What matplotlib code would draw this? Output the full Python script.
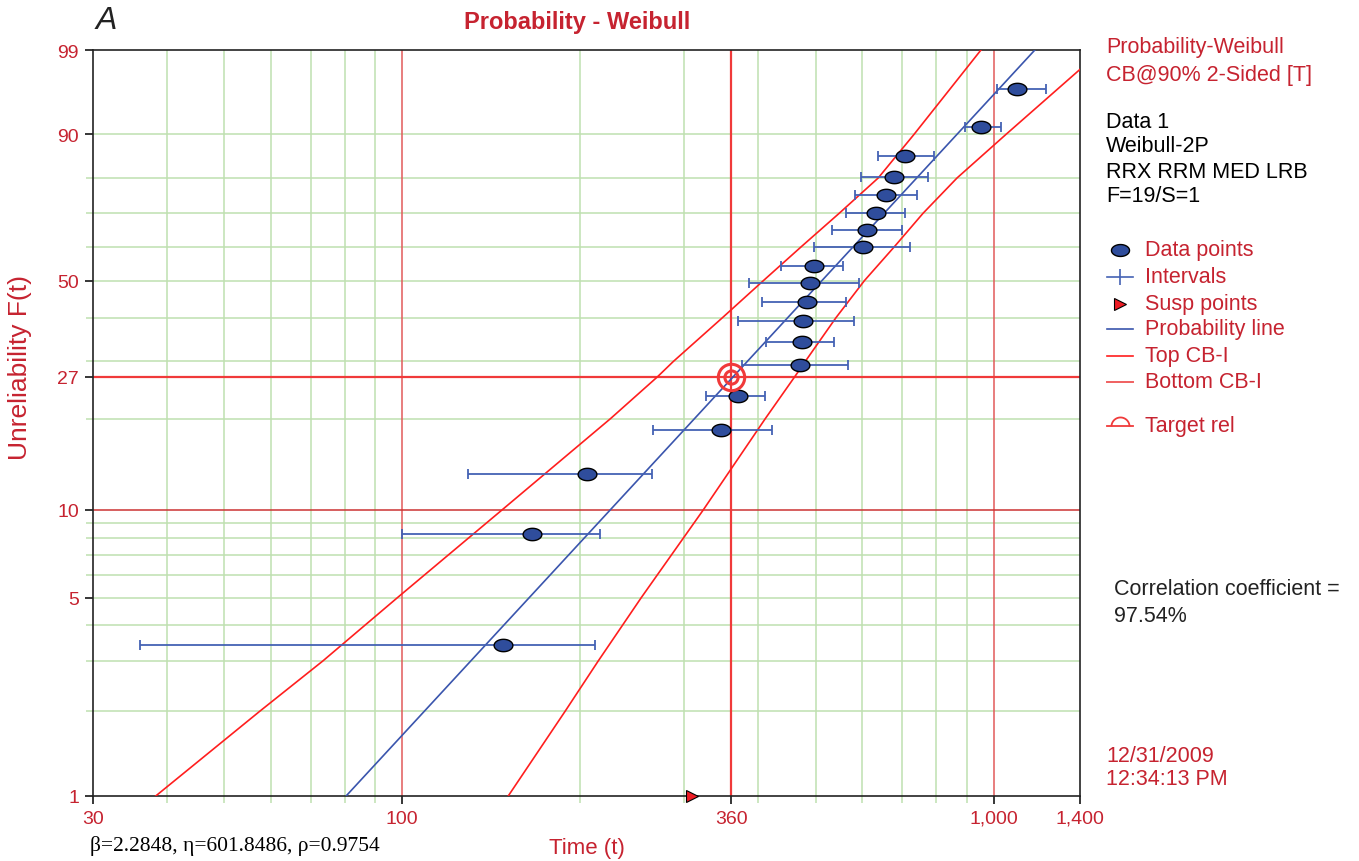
import numpy as np
import matplotlib
matplotlib.use('Agg')
import matplotlib.pyplot as plt
from matplotlib.path import Path
from matplotlib.ticker import FixedLocator, FixedFormatter, NullFormatter

# Weibull-2P fit shown on the chart
beta = 2.2848
eta = 601.8486

# failure times and their unreliability (%)
fail_time = [148, 166, 205, 346, 370, 471, 474, 477, 484, 489, 497,
             601, 611, 633, 658, 679, 708, 952, 1096]
fail_unrel = [3.42, 8.29, 13.2, 18.4, 23.6, 29.3, 34.2, 39.2, 44.1, 49.3, 54.2,
              59.9, 65.0, 70.1, 75.3, 80.3, 85.5, 91.3, 96.5]
# interval on each point (time)
int_lo = [36.0, 99.9, 129.2, 265.6, 326.3, 375.4, 412.2, 369.6, 405.9, 385.8, 437.0,
          497.0, 533.1, 562.9, 583.0, 596.7, 637.5, 894.6, 1013.4]
int_hi = [211.8, 215.9, 264.5, 421.9, 410.6, 567.3, 537.2, 580.8, 562.9, 592.1, 556.4,
          722.2, 700.0, 708.3, 742.3, 774.7, 792.9, 1029.2, 1226.4]

# suspended unit
susp_time = [309]
susp_unrel = [1]

# 90% 2-sided bounds, read at the grid levels
cb_unrel = [1, 2, 3, 5, 10, 20, 27, 30, 40, 50, 60, 70, 80, 90, 99]
top_cb = [38.3, 57.5, 73.4, 98.2, 147.5, 225.1, 270.3, 287.4, 347.9, 408.2,
          473.2, 548.1, 638.1, 733.6, 952]
bot_cb = [151.1, 188.7, 214.5, 253.7, 322.9, 411.2, 461.1, 480.3, 541.3, 604.9,
          679.9, 759.7, 867.3, 1049.5, 1525.6]

target_time = 360
target_unrel = 27

x_ticks = [30, 100, 360, 1000, 1400]
x_ticklabels = ['30', '100', '360', '1,000', '1,400']
y_ticks = [1, 5, 10, 27, 50, 90, 99]
y_ticklabels = ['1', '5', '10', '27', '50', '90', '99']
x_grid_green = [40, 50, 60, 70, 80, 90, 200, 300, 400, 500, 600, 700, 800, 900]
x_grid_red = [100, 1000]
y_grid_green = [2, 3, 4, 5, 6, 7, 8, 9, 20, 30, 40, 50, 60, 70, 80, 90]
y_grid_red = [10]

RED = '#c62330'
GREEN = '#bfe0b0'
GRIDRED = '#e25a5a'
BRIGHT = '#f03a3a'
BLUE = '#3a55ad'
DOT = '#2f4d9c'
CBRED = '#ff1e1e'
SANS = 'Liberation Sans'
SIDE = 15.5

plt.rcParams['font.family'] = SANS


def wb(F):
    F = np.clip(np.asarray(F, dtype=float) / 100.0, 1e-12, 1 - 1e-12)
    return np.log(-np.log(1 - F))


def wb_inv(y):
    return 100.0 * (1 - np.exp(-np.exp(np.asarray(y, dtype=float))))


# ellipse marker for the data points
th = np.linspace(0, 2 * np.pi, 61)
ellipse = Path(np.column_stack([np.cos(th), 0.66 * np.sin(th)]), closed=True)
arc = np.linspace(0, np.pi, 31)
half = Path(np.column_stack([np.cos(arc), np.sin(arc)]))

fig = plt.figure(figsize=(13.59, 8.62), dpi=100)
ax = fig.add_axes([93 / 1359, 1 - 797 / 862, 987 / 1359, 746 / 862])
ax.set_xscale('log')
ax.set_yscale('function', functions=(wb, wb_inv))
ax.set_xlim(30, 1400)
ax.set_ylim(1, 99)

# grid
for v in x_grid_green:
    ax.axvline(v, color=GREEN, lw=1.1, zorder=1)
for v in y_grid_green:
    ax.axhline(v, color=GREEN, lw=1.1, zorder=1)
for v in x_grid_red:
    ax.axvline(v, color=GRIDRED, lw=1.1, zorder=1.5)
for v in y_grid_red:
    ax.axhline(v, color='#cc3333', lw=1.1, zorder=1.5)
ax.axvline(target_time, color=BRIGHT, lw=1.6, zorder=1.6)
ax.axhline(target_unrel, color=BRIGHT, lw=1.6, zorder=1.6)

# probability line from the fit
t = np.geomspace(30, 1400, 300)
ax.plot(t, 100 * (1 - np.exp(-(t / eta) ** beta)), color=BLUE, lw=1.2, zorder=3)

# confidence bounds
ax.plot(top_cb, cb_unrel, color=CBRED, lw=1.2, zorder=3)
ax.plot(bot_cb, cb_unrel, color=CBRED, lw=1.2, zorder=3)

# intervals and points
ft = np.array(fail_time, dtype=float)
ax.errorbar(ft, fail_unrel, xerr=[ft - np.array(int_lo), np.array(int_hi) - ft],
            fmt='none', ecolor='#4462b4', elinewidth=1.3, capsize=3.5,
            capthick=1.3, zorder=4)
ax.plot(fail_time, fail_unrel, ls='none', marker=ellipse, ms=13.5,
        mfc=DOT, mec='black', mew=1.0, zorder=5)

# suspension
ax.plot(susp_time, susp_unrel, ls='none', marker='>', ms=9, mfc='#ee1c24',
        mec='black', mew=0.8, clip_on=False, zorder=6)

# target reliability
ax.plot([target_time], [target_unrel], ls='none', marker='o', ms=19,
        mfc='none', mec=BRIGHT, mew=2.2, zorder=6)
ax.plot([target_time], [target_unrel], ls='none', marker='o', ms=9.5,
        mfc='none', mec=BRIGHT, mew=2.2, zorder=6)

# ticks
ax.xaxis.set_major_locator(FixedLocator(x_ticks))
ax.xaxis.set_major_formatter(FixedFormatter(x_ticklabels))
ax.xaxis.set_minor_locator(FixedLocator(x_grid_green))
ax.xaxis.set_minor_formatter(NullFormatter())
ax.yaxis.set_major_locator(FixedLocator(y_ticks))
ax.yaxis.set_major_formatter(FixedFormatter(y_ticklabels))
ax.yaxis.set_minor_locator(FixedLocator(y_grid_green))
ax.yaxis.set_minor_formatter(NullFormatter())
ax.tick_params(which='major', length=6, width=1.1, direction='out', pad=4,
               labelcolor=RED, labelsize=14)
ax.tick_params(which='minor', length=5, width=1.1, direction='out', color=GREEN)
for tk, c in zip(ax.xaxis.get_major_ticks(), ['black', GRIDRED, BRIGHT, GRIDRED, 'black']):
    tk.tick1line.set_color(c)
for tk, c in zip(ax.yaxis.get_major_ticks(), ['black', GREEN, '#cc3333', BRIGHT, GREEN, GREEN, 'black']):
    tk.tick1line.set_color(c)
for s in ax.spines.values():
    s.set_color('#222222')
    s.set_linewidth(1.2)

# labels
ax.set_xlabel('Time (t)', color=RED, fontsize=16, labelpad=7)
ax.set_ylabel('Unreliability F(t)', color=RED, fontsize=19)
ax.yaxis.set_label_coords(-0.062, 0.576)

# overlay in pixel coordinates for the side panel
ov = fig.add_axes([0, 0, 1, 1], zorder=10)
ov.set_xlim(0, 1359)
ov.set_ylim(862, 0)
ov.axis('off')

ov.text(96, 21, 'A', fontsize=23, style='italic', color='#222222', va='center')
ov.text(577, 23, 'Probability - Weibull', fontsize=17, fontweight='bold', color=RED,
        ha='center', va='center')
ov.text(90, 846, '\u03b2=2.2848, \u03b7=601.8486, \u03c1=0.9754', fontsize=15.5,
        family='Liberation Serif', color='black', va='center')

side_red = ['Probability-Weibull', 'CB@90% 2-Sided [T]']
for i, s in enumerate(side_red):
    ov.text(1106, 47 + 29 * i, s, fontsize=SIDE, color=RED, va='center')
side_black = ['Data 1', 'Weibull-2P', 'RRX RRM MED LRB', 'F=19/S=1']
for i, s in enumerate(side_black):
    ov.text(1106, 122 + 25 * i, s, fontsize=SIDE, color='black', va='center')

leg_labels = ['Data points', 'Intervals', 'Susp points', 'Probability line',
              'Top CB-I', 'Bottom CB-I', '', 'Target rel']
leg_y = [251, 278, 305, 330, 357, 383, 405, 427]
for lab, y in zip(leg_labels, leg_y):
    if lab:
        ov.text(1145, y, lab, fontsize=SIDE, color=RED, va='center')
ov.plot([1120], [leg_y[0]], marker=ellipse, ms=13, mfc=DOT, mec='black', mew=1)
ov.plot([1107, 1133], [leg_y[1]] * 2, color='#4462b4', lw=1.2)
ov.plot([1120], [leg_y[1]], marker='|', ms=12, mec='#4462b4', mew=1.2)
ov.plot([1120], [leg_y[2]], marker='>', ms=9, mfc='#ee1c24', mec='black', mew=0.8)
ov.plot([1107, 1133], [leg_y[3]] * 2, color=BLUE, lw=1.2)
ov.plot([1107, 1133], [leg_y[4]] * 2, color=CBRED, lw=1.2)
ov.plot([1107, 1133], [leg_y[5]] * 2, color='#f06060', lw=1.4)
ov.plot([1107, 1133], [leg_y[7]] * 2, color=BRIGHT, lw=1.3)
ov.plot([1120], [leg_y[7]], marker=half, ms=13, mfc='none', mec=BRIGHT, mew=1.3)

ov.text(1114, 590, 'Correlation coefficient =', fontsize=SIDE, color='#222222', va='center')
ov.text(1114, 617, '97.54%', fontsize=SIDE, color='#222222', va='center')
ov.text(1106, 757, '12/31/2009', fontsize=SIDE, color=RED, va='center')
ov.text(1106, 780, '12:34:13 PM', fontsize=SIDE, color=RED, va='center')

fig.savefig('out.png', dpi=100)
